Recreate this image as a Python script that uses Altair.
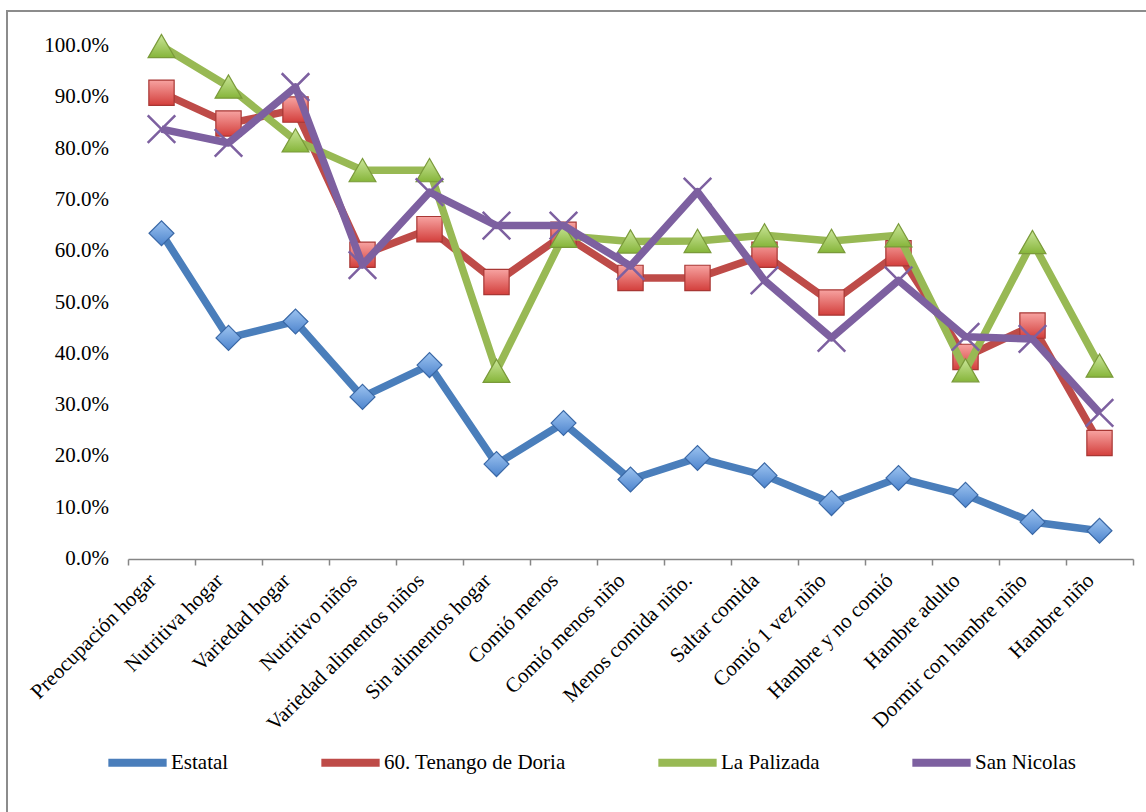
import altair as alt
import pandas as pd

# Food-insecurity indicators (share of households answering "yes")
categories = [
    "Preocupación hogar", "Nutritiva hogar", "Variedad hogar", "Nutritivo niños",
    "Variedad alimentos niños", "Sin alimentos hogar", "Comió menos",
    "Comió menos niño", "Menos comida niño.", "Saltar  comida",
    "Comió 1 vez niño", "Hambre y no comió", "Hambre adulto",
    "Dormir con hambre niño", "Hambre niño",
]
series_names = ["Estatal", "60. Tenango de Doria", "La Palizada", "San Nicolas"]

estatal = [0.635, 0.431, 0.463, 0.316, 0.378, 0.185, 0.265, 0.155, 0.197,
           0.163, 0.109, 0.158, 0.125, 0.072, 0.055]
tenango = [0.909, 0.849, 0.876, 0.593, 0.643, 0.540, 0.632, 0.548, 0.548,
           0.593, 0.500, 0.596, 0.394, 0.455, 0.226]
palizada = [1.000, 0.921, 0.816, 0.758, 0.758, 0.367, 0.630, 0.619, 0.620,
            0.631, 0.620, 0.631, 0.368, 0.618, 0.377]
san_nicolas = [0.838, 0.811, 0.920, 0.573, 0.715, 0.650, 0.650, 0.571, 0.716,
               0.543, 0.431, 0.543, 0.433, 0.429, 0.285]

y_ticks = [i / 10 for i in range(11)]
y_tick_labels = ["0.0%", "10.0%", "20.0%", "30.0%", "40.0%", "50.0%",
                 "60.0%", "70.0%", "80.0%", "90.0%", "100.0%"]

line_colors = ["#4A7EBB", "#BE4B48", "#98B954", "#7D60A0"]

rows = []
for name, vals in zip(series_names, [estatal, tenango, palizada, san_nicolas]):
    for cat, v in zip(categories, vals):
        rows.append({"indicador": cat, "serie": name, "valor": v})
df = pd.DataFrame(rows)
ticks_df = pd.DataFrame({"valor": y_ticks, "etiqueta": y_tick_labels})

FONT = "Liberation Serif"
FS = 21

y_scale = alt.Scale(domain=[0, 1], nice=False)

x_enc = alt.X(
    "indicador:N", sort=categories, title=None,
    scale=alt.Scale(paddingInner=0, paddingOuter=0),
    axis=alt.Axis(
        labelAngle=-45, labelAlign="right", labelBaseline="middle",
        labelPadding=12, labelOffset=-9, labelFont=FONT, labelFontSize=FS,
        tickBand="extent", tickSize=6, tickColor="#868686",
        tickWidth=1.5, domainColor="#868686", domainWidth=1.5, grid=False,
        labelLimit=400,
    ),
)
y_enc = alt.Y(
    "valor:Q", title=None, scale=y_scale,
    axis=alt.Axis(
        values=y_ticks, labels=False, tickSize=6,
        tickColor="#868686", tickWidth=1.5, domainColor="#868686",
        domainWidth=1.5, gridColor="#8a8a8a", gridWidth=1.5,
    ),
)
color_enc = alt.Color(
    "serie:N",
    scale=alt.Scale(domain=series_names, range=line_colors),
    legend=alt.Legend(
        title=None, orient="none", direction="horizontal", legendX=-24,
        legendY=683, symbolType="stroke", symbolStrokeWidth=8,
        symbolSize=3400, labelOffset=0, columnPadding=76, labelLimit=400,
        labelFont=FONT, labelFontSize=FS,
    ),
)


def grad(top, bottom):
    return alt.LinearGradient(
        gradient="linear", x1=0, x2=0, y1=0, y2=1,
        stops=[alt.GradientStop(color=top, offset=0),
               alt.GradientStop(color=bottom, offset=1)],
    )


marker_styles = [
    dict(shape="diamond", size=620, fill=grad("#9cc3f0", "#4d84cd"),
         stroke="#3a68a6", strokeWidth=1.2),
    dict(shape="square", size=640, fill=grad("#f7a3a1", "#d33f3c"),
         stroke="#a83734", strokeWidth=1.2),
    dict(shape="triangle-up", size=720, fill=grad("#cbe69a", "#86b53a"),
         stroke="#7a9a3a", strokeWidth=1.2),
    dict(shape="M-1,-1L1,1M-1,1L1,-1", size=760, fill="transparent",
         stroke="#7D60A0", strokeWidth=2.5),
]

base = alt.Chart(df)
layers = []
for name, style in zip(series_names, marker_styles):
    sub = base.transform_filter(alt.datum.serie == name)
    layers.append(
        sub.mark_line(strokeWidth=7.5, strokeJoin="round").encode(
            x=x_enc, y=y_enc, color=color_enc
        )
    )
    layers.append(
        sub.mark_point(filled=True, opacity=1, **style).encode(x=x_enc, y=y_enc)
    )

# Percentage labels of the value axis, set in the serif face
y_labels = alt.Chart(ticks_df).mark_text(
    align="right", baseline="middle", font=FONT, fontSize=FS,
    color="#000000", clip=False
).encode(
    x=alt.value(-19),
    y=alt.Y("valor:Q", scale=y_scale, axis=None),
    text="etiqueta:N",
)

# Outer frame around the whole figure
frame = alt.Chart(df).mark_rect(
    fill="transparent", stroke="#8c8c8c", strokeWidth=2, clip=False
).encode(
    x=alt.value(-121), x2=alt.value(1060), y=alt.value(-35), y2=alt.value(820)
)

chart = alt.layer(frame, *layers, y_labels).properties(
    width=1005, height=513,
    autosize=alt.AutoSizeParams(type="none"),
    padding={"left": 128, "top": 46, "right": 13, "bottom": 253},
    background="#ffffff",
).configure(
    font=FONT
).configure_axis(
    labelColor="#000000"
).configure_legend(
    labelColor="#000000"
).configure_view(strokeWidth=0)

chart.save("out.html", embed_options={"renderer": "svg", "actions": False})
